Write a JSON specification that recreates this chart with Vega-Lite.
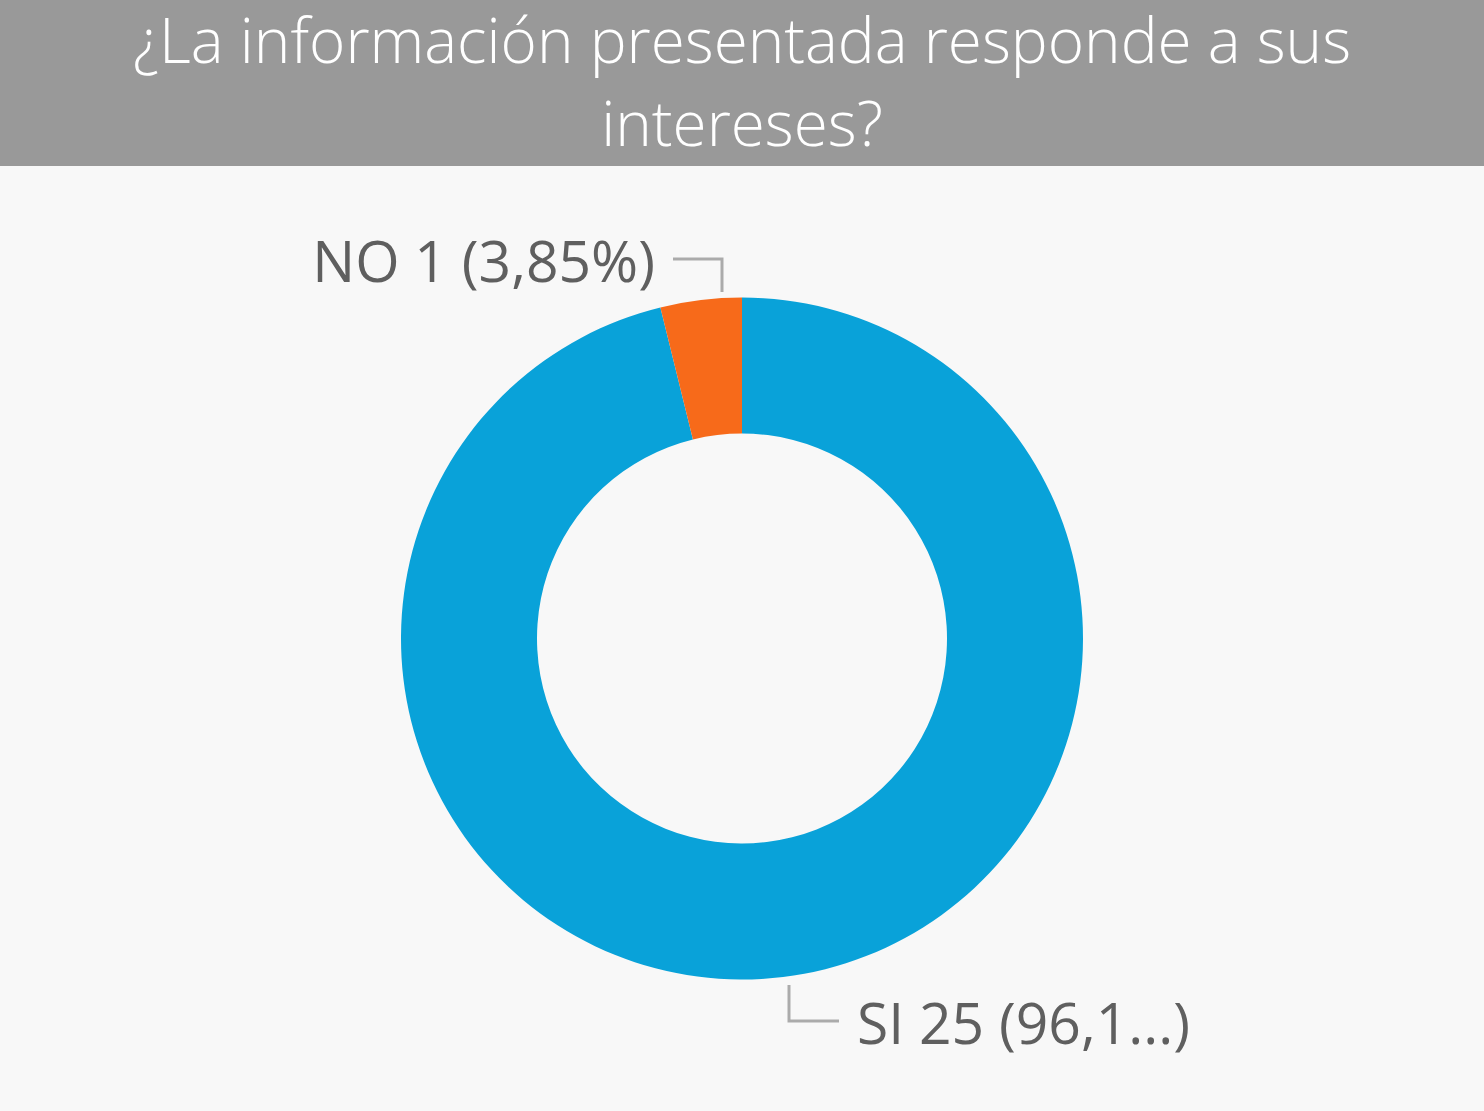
{
  "$schema": "https://vega.github.io/schema/vega-lite/v6.json",
  "background": "#F8F8F8",
  "padding": 0,
  "spacing": 0,
  "bounds": "flush",
  "config": {"view": {"stroke": null}, "concat": {"spacing": 0}},
  "datasets": {
    "titulo": [{"t": "¿La información presentada responde a sus\nintereses?"}],
    "respuestas": [
      {"respuesta": "SI", "n": 25, "orden": 1},
      {"respuesta": "NO", "n": 1, "orden": 2}
    ],
    "etiquetas": [
      {"respuesta": "NO", "label": "NO 1 (3,85%)", "px": -87, "py": 356.5},
      {"respuesta": "SI", "label": "SI 25 (96,1...)", "px": 115, "py": -405.5}
    ],
    "guias": [
      {"respuesta": "NO", "o": 1, "px": -69, "py": 379.5},
      {"respuesta": "NO", "o": 2, "px": -20, "py": 379.5},
      {"respuesta": "NO", "o": 3, "px": -20, "py": 346.5},
      {"respuesta": "SI", "o": 1, "px": 47, "py": -346.5},
      {"respuesta": "SI", "o": 2, "px": 47, "py": -382.5},
      {"respuesta": "SI", "o": 3, "px": 97, "py": -382.5}
    ]
  },
  "vconcat": [
    {
      "width": 1484,
      "height": 166,
      "view": {"fill": "#999999", "stroke": null},
      "data": {"name": "titulo"},
      "mark": {"type": "text", "color": "#FFFFFF", "font": "Open Sans", "fontWeight": 300, "fontSize": 62, "lineBreak": "\n", "lineHeight": 83, "align": "center", "baseline": "alphabetic", "dy": -20},
      "encoding": {"text": {"field": "t", "type": "nominal"}}
    },
    {
      "width": 1484,
      "height": 945,
      "layer": [
        {
          "data": {"name": "respuestas"},
          "mark": {"type": "arc", "outerRadius": 341, "innerRadius": 205},
          "encoding": {
            "theta": {"field": "n", "type": "quantitative", "stack": true},
            "order": {"field": "orden", "type": "quantitative"},
            "color": {"field": "respuesta", "type": "nominal", "scale": {"domain": ["SI", "NO"], "range": ["#09A2D9", "#F76A1A"]}, "legend": null}
          }
        },
        {
          "data": {"name": "guias"},
          "mark": {"type": "line", "color": "#ABABAB", "strokeWidth": 3},
          "encoding": {
            "x": {"field": "px", "type": "quantitative", "scale": {"domain": [-742, 742], "nice": false, "zero": false}, "axis": null},
            "y": {"field": "py", "type": "quantitative", "scale": {"domain": [-472.5, 472.5], "nice": false, "zero": false}, "axis": null},
            "detail": {"field": "respuesta", "type": "nominal"},
            "order": {"field": "o", "type": "quantitative"}
          }
        },
        {
          "data": {"name": "etiquetas"},
          "transform": [{"filter": "datum.respuesta === 'NO'"}],
          "mark": {"type": "text", "font": "Open Sans", "fontSize": 57, "color": "#5F5F5F", "baseline": "alphabetic", "align": "right"},
          "encoding": {
            "x": {"field": "px", "type": "quantitative", "scale": {"domain": [-742, 742], "nice": false, "zero": false}, "axis": null},
            "y": {"field": "py", "type": "quantitative", "scale": {"domain": [-472.5, 472.5], "nice": false, "zero": false}, "axis": null},
            "text": {"field": "label", "type": "nominal"}
          }
        },
        {
          "data": {"name": "etiquetas"},
          "transform": [{"filter": "datum.respuesta === 'SI'"}],
          "mark": {"type": "text", "font": "Open Sans", "fontSize": 57, "color": "#5F5F5F", "baseline": "alphabetic", "align": "left"},
          "encoding": {
            "x": {"field": "px", "type": "quantitative", "scale": {"domain": [-742, 742], "nice": false, "zero": false}, "axis": null},
            "y": {"field": "py", "type": "quantitative", "scale": {"domain": [-472.5, 472.5], "nice": false, "zero": false}, "axis": null},
            "text": {"field": "label", "type": "nominal"}
          }
        }
      ]
    }
  ]
}
